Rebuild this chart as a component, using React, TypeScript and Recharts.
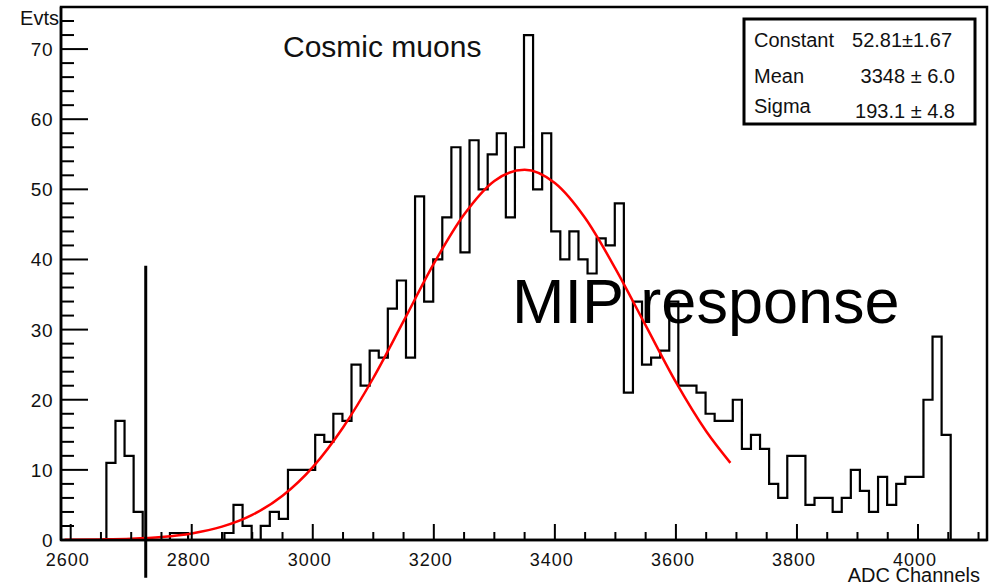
import { useMemo } from 'react'
import {
  Customized,
  Line,
  LineChart,
  ReferenceArea,
  ReferenceLine,
  XAxis,
  YAxis,
} from 'recharts'

const FONT = '"Liberation Sans", Arial, Helvetica, sans-serif'
const INK = '#111'

// ADC spectrum binning: 102 bins of 15 channels
const BIN_START = 2584
const BIN_WIDTH = 15
const COUNTS = [
  0, 0, 0, 0, 0, 11, 17, 12, 4, 0,
  0, 0, 1, 1, 0, 0, 0, 0, 1, 5,
  2, 0, 2, 4, 3, 10, 10, 10, 15, 14,
  18, 17, 25, 22, 27, 26, 33, 37, 26, 49,
  34, 40, 46, 56, 41, 57, 50, 55, 58, 46,
  56, 72, 50, 58, 44, 40, 44, 40, 38, 43,
  42, 48, 21, 34, 25, 26, 27, 34, 22, 22,
  21, 18, 17, 17, 20, 13, 15, 13, 8, 6,
  12, 12, 5, 6, 6, 4, 6, 10, 7, 4,
  9, 5, 8, 9, 9, 20, 29, 15, 0, 0,
  0, 0,
]
const X_MIN = BIN_START
const X_MAX = BIN_START + COUNTS.length * BIN_WIDTH
const Y_MAX = 76

// gaussian fit curve (red)
const FIT_X = [
  2590, 2650, 2700, 2750, 2800, 2850, 2900, 2950, 3000, 3050, 3100, 3150,
  3200, 3250, 3300, 3350, 3400, 3450, 3500, 3550, 3600, 3650, 3690,
]
const FIT_Y = [
  0.02, 0.08, 0.19, 0.44, 0.94, 1.9, 3.58, 6.31, 10.4, 16.05, 23.1, 31.2,
  39.4, 46.4, 51.2, 52.8, 50.9, 45.9, 38.7, 30.6, 22.5, 15.5, 11.0,
]

const FIT_PARAMS = [
  { name: 'Constant', value: '52.81±1.67' },
  { name: 'Mean', value: '3348 ± 6.0' },
  { name: 'Sigma', value: '193.1 ± 4.8' },
]

// threshold cut marker
const CUT_X = 2724
const CUT_TOP = 39.1
const CUT_BOTTOM = -5.4

const X_LABELS = [2600, 2800, 3000, 3200, 3400, 3600, 3800, 4000]
const Y_LABELS = [0, 10, 20, 30, 40, 50, 60, 70]
const X_TICKS = Array.from({ length: 31 }, (_, i) => 2600 + i * 50)
const Y_TICKS = Array.from({ length: 38 }, (_, i) => i * 2)

interface TickProps {
  x?: number
  y?: number
  payload?: { value: number }
}

// ROOT-style ticks point into the frame
function XTick({ x = 0, y = 0, payload }: TickProps) {
  const v = payload?.value ?? 0
  const major = X_LABELS.includes(v)
  return (
    <g>
      <line x1={x} x2={x} y1={y} y2={y - (major ? 16 : 8)} stroke="#000" strokeWidth={2} />
      {major && (
        <text
          x={x - 3}
          y={y + 26}
          textAnchor="middle"
          fontFamily={FONT}
          fontSize={18}
          letterSpacing={1}
          fill={INK}
        >
          {v}
        </text>
      )}
    </g>
  )
}

function YTick({ x = 0, y = 0, payload }: TickProps) {
  const v = payload?.value ?? 0
  const major = Y_LABELS.includes(v)
  return (
    <g>
      <line x1={x} x2={x + (major ? 27 : 13)} y1={y} y2={y} stroke="#000" strokeWidth={2} />
      {major && (
        <text
          x={53}
          y={y + 7}
          textAnchor="end"
          fontFamily={FONT}
          fontSize={19}
          letterSpacing={0.5}
          fill={INK}
        >
          {v}
        </text>
      )}
    </g>
  )
}

function Annotations() {
  const rowBase = [47, 83, 113]
  return (
    <g fontFamily={FONT}>
      <text x={59} y={25} textAnchor="end" fontSize={20} fill={INK}>
        Evts
      </text>
      <text x={980} y={582} textAnchor="end" fontSize={20} fill={INK}>
        ADC Channels
      </text>
      <text x={283} y={57} fontSize={30} fill={INK}>
        Cosmic muons
      </text>
      <text x={512} y={323} fontSize={63} fill="#000">
        MIP response
      </text>
      <rect x={744} y={19} width={231} height={105} fill="#fff" stroke="#000" strokeWidth={3} />
      {FIT_PARAMS.map((p, i) => (
        <g key={p.name}>
          <text x={754} y={rowBase[i]} fontSize={20} fill={INK}>
            {p.name}
          </text>
          <text
            x={i === 0 ? 952 : 955}
            y={rowBase[i] + (i === 2 ? 5 : 0)}
            textAnchor="end"
            fontSize={20}
            fill={INK}
          >
            {p.value}
          </text>
        </g>
      ))}
    </g>
  )
}

export default function App() {
  const hist = useMemo(() => {
    const rows = COUNTS.map((c, i) => ({ x: BIN_START + i * BIN_WIDTH, y: c }))
    rows.push({ x: X_MAX, y: COUNTS[COUNTS.length - 1] })
    return rows
  }, [])
  const fit = useMemo(() => FIT_X.map((x, i) => ({ x, y: FIT_Y[i] })), [])

  return (
    <div style={{ position: 'absolute', left: 0, top: 0, width: 1000, height: 588, background: '#fff' }}>
      <LineChart width={1000} height={588} margin={{ top: 7, right: 13, bottom: 0, left: 0 }}>
        <XAxis
          type="number"
          dataKey="x"
          domain={[X_MIN, X_MAX]}
          allowDataOverflow
          ticks={X_TICKS}
          interval={0}
          tickSize={0}
          tickMargin={0}
          tickLine={false}
          axisLine={{ stroke: '#000', strokeWidth: 2.5 }}
          tick={<XTick />}
          height={48}
        />
        <YAxis
          type="number"
          domain={[0, Y_MAX]}
          allowDataOverflow
          ticks={Y_TICKS}
          interval={0}
          tickSize={0}
          tickMargin={0}
          tickLine={false}
          axisLine={{ stroke: '#000', strokeWidth: 2.5 }}
          tick={<YTick />}
          width={61}
        />
        <ReferenceArea
          x1={X_MIN}
          x2={X_MAX}
          y1={0}
          y2={Y_MAX}
          fill="none"
          stroke="#000"
          strokeWidth={2.5}
          ifOverflow="visible"
        />
        <Line
          data={hist}
          dataKey="y"
          type="stepAfter"
          stroke="#000"
          strokeWidth={2.2}
          dot={false}
          isAnimationActive={false}
        />
        <Line
          data={fit}
          dataKey="y"
          type="monotone"
          stroke="#ff0000"
          strokeWidth={2.5}
          dot={false}
          isAnimationActive={false}
        />
        <ReferenceLine
          segment={[
            { x: CUT_X, y: CUT_TOP },
            { x: CUT_X, y: CUT_BOTTOM },
          ]}
          stroke="#000"
          strokeWidth={3}
          ifOverflow="visible"
        />
        <Customized component={Annotations} />
      </LineChart>
    </div>
  )
}
